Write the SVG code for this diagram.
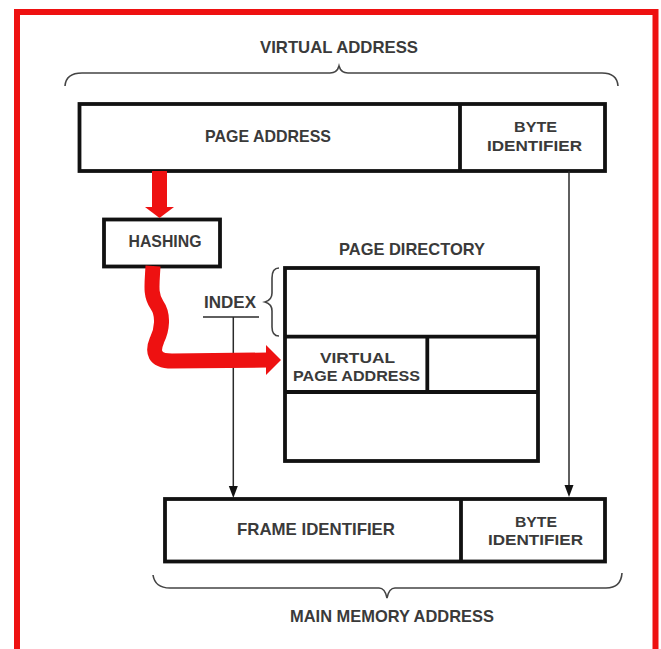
<svg xmlns="http://www.w3.org/2000/svg" width="661" height="649" viewBox="0 0 661 649">
<style>
.box{fill:none;stroke:#111;stroke-width:3.8}
.thin{fill:none;stroke:#2a2a2a;stroke-width:1.5}
.brace{fill:none;stroke:#444;stroke-width:1.6}
.red{fill:#ee1111}
.head{fill:#111}
text{font-family:"Liberation Sans",Arial,sans-serif;font-weight:bold;font-size:17px;fill:#3a3a3a;text-anchor:middle}
text.two{font-size:15px}
</style>
<rect width="661" height="649" fill="#fff"/>
<path d="M17,656 L17,12 L655.5,12 L655.5,656" fill="none" stroke="#ee1111" stroke-width="6"/>

<g id="virtual-address-label">
<text x="339" y="53" textLength="158" lengthAdjust="spacingAndGlyphs">VIRTUAL ADDRESS</text>
<path class="brace" d="M65,86 Q66,73 82,73 L330,73 Q337,73 339,66 Q341,73 348,73 L602,73 Q617,73 618,86"/>
</g>

<g id="virtual-address">
<rect class="box" x="79.5" y="104" width="525.5" height="67"/>
<line class="box" x1="460" y1="104" x2="460" y2="171"/>
<text x="268" y="142" textLength="126" lengthAdjust="spacingAndGlyphs">PAGE ADDRESS</text>
<text class="two" x="535.5" y="132" textLength="43" lengthAdjust="spacingAndGlyphs">BYTE</text>
<text class="two" x="534.5" y="151" textLength="95" lengthAdjust="spacingAndGlyphs">IDENTIFIER</text>
</g>

<g id="hashing">
<rect class="box" x="104" y="219.5" width="116" height="47"/>
<text x="165" y="247" textLength="73" lengthAdjust="spacingAndGlyphs">HASHING</text>
</g>

<g id="page-directory">
<text x="412" y="255" textLength="146" lengthAdjust="spacingAndGlyphs">PAGE DIRECTORY</text>
<rect class="box" x="285" y="268" width="253" height="193"/>
<line class="box" x1="285" y1="336.7" x2="538" y2="336.7"/>
<line class="box" x1="285" y1="392" x2="538" y2="392"/>
<line class="box" x1="427.3" y1="336.7" x2="427.3" y2="392"/>
<text class="two" x="357.5" y="362.5" textLength="75" lengthAdjust="spacingAndGlyphs">VIRTUAL</text>
<text class="two" x="356.5" y="380.5" textLength="127" lengthAdjust="spacingAndGlyphs">PAGE ADDRESS</text>
<path class="brace" d="M279,268 Q272,268 272,278 L272,293 Q272,300 265,302 Q272,304 272,311 L272,327 Q272,336 279,336"/>
</g>

<g id="index">
<text x="230" y="308" textLength="52" lengthAdjust="spacingAndGlyphs">INDEX</text>
<line class="thin" x1="203" y1="317" x2="259" y2="317" stroke-width="2"/>
</g>

<g id="main-memory-address">
<rect class="box" x="165" y="499" width="440" height="62.5"/>
<line class="box" x1="461" y1="499" x2="461" y2="561.5"/>
<text x="316" y="535" textLength="158" lengthAdjust="spacingAndGlyphs">FRAME IDENTIFIER</text>
<text class="two" x="536" y="527" textLength="42" lengthAdjust="spacingAndGlyphs">BYTE</text>
<text class="two" x="535.5" y="545" textLength="95" lengthAdjust="spacingAndGlyphs">IDENTIFIER</text>
</g>

<g id="main-memory-address-label">
<path class="brace" d="M153,575 Q155,588 170,588 L379,588 Q385,588 387,598 Q389,588 395,588 L606,588 Q621,588 622,573"/>
<text x="392" y="622" textLength="204" lengthAdjust="spacingAndGlyphs">MAIN MEMORY ADDRESS</text>
</g>

<g id="connectors">
<line class="thin" x1="569" y1="171" x2="569" y2="488"/>
<polygon class="head" points="564.5,485 573.5,485 569,497"/>
<line class="thin" x1="233.3" y1="317" x2="233.3" y2="488"/>
<polygon class="head" points="228.8,486 237.8,486 233.3,498"/>
<rect class="red" x="152" y="171" width="15" height="38"/>
<polygon class="red" points="145,207 174,207 159.5,218"/>
<path d="M153,266 C152,285 150,295 157,305 C164,315 162,330 157,340 C152,352 154,361 172,361 L268,360" fill="none" stroke="#ee1111" stroke-width="15"/>
<polygon class="red" points="266,345 281,360 266,375"/>
</g>
</svg>
